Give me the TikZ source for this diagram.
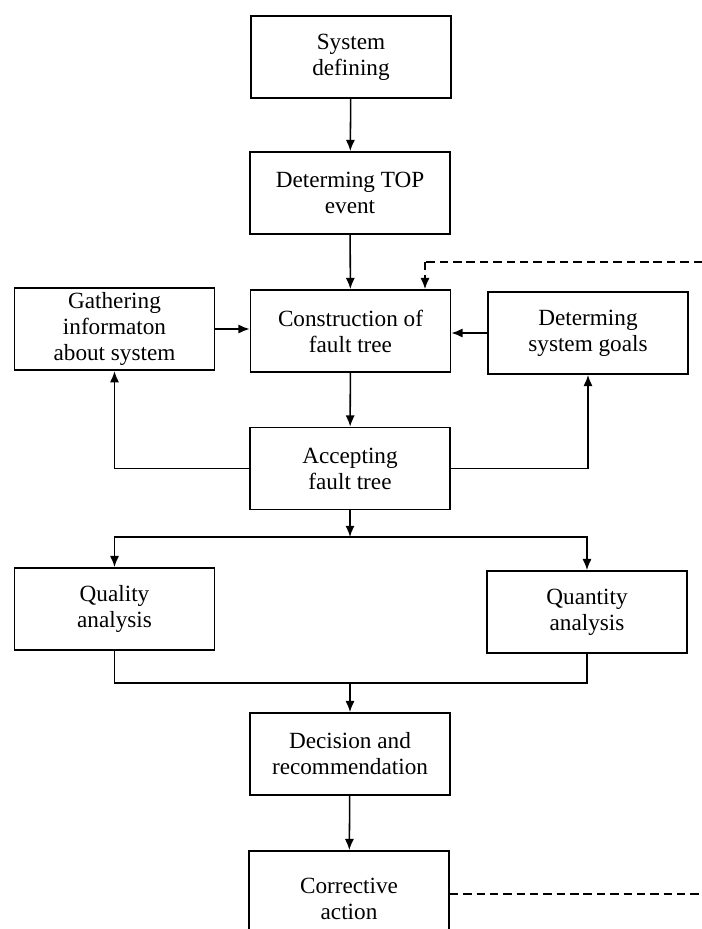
\documentclass[tikz,border=0pt]{standalone}
\usepackage{fontspec}
\setmainfont{Liberation Serif}
\usetikzlibrary{arrows.meta, positioning}

\begin{document}
\begin{tikzpicture}[x=0.025cm, y=-0.025cm,
  box/.style={draw, line width=1.2pt, minimum width=5cm, minimum height=2.05cm,
    align=center, font=\fontsize{16.5}{18.5}\selectfont},
  arr/.style={line width=1.1pt, -{Latex[length=8pt, width=6.5pt]}},
  lin/.style={line width=1.1pt},
  fb/.style={line width=1.1pt, dash pattern=on 6pt off 3.5pt}]
\useasboundingbox (0,0) rectangle (702,929);
% Cajas
\node[box] (sys) at (351,57) {System\\defining};
\node[box] (top) at (350,193) {Determing TOP\\event};
\node[box] (gath) at (114.5,329) {Gathering\\informaton\\about system};
\node[box] (cons) at (350.5,331) {Construction of\\fault tree};
\node[box] (goal) at (588,333) {Determing\\system goals};
\node[box] (acc) at (350,468.5) {Accepting\\fault tree};
\node[box] (qual) at (114.5,609) {Quality\\analysis};
\node[box] (quan) at (587,612) {Quantity\\analysis};
\node[box] (dec) at (350,754) {Decision and\\recommendation};
\node[box, minimum height=2.4cm] (cor) at (349,899) {Corrective\\action};
% Puntos auxiliares
\coordinate (fbin) at (702,262);
\coordinate (dashtop) at (425,262);
\coordinate (split) at (350,537);
\coordinate (merge) at (350,683);
\coordinate (fbout) at (702,894);
% Flechas
\draw[arr] (sys) -- (top);
\draw[arr] (top) -- (cons);
\draw[arr] (gath.east) -- (gath.east -| cons.west);
\draw[arr] (goal.west) -- (goal.west -| cons.east);
\draw[arr] (cons) -- (acc);
\draw[arr] (acc.west) -| (gath.south);
\draw[arr] (acc.east) -| (goal.south);
\draw[arr] (acc) -- (split);
\draw[arr] (split) -| (qual.north);
\draw[arr] (split) -| (quan.north);
\draw[lin] (qual.south) |- (merge) -| (quan.south);
\draw[arr] (merge) -- (dec);
\draw[arr] (dec) -- (cor);
% Retroalimentacion
\draw[fb] (fbin) -- (dashtop);
\draw[fb, -{Latex[length=8pt, width=6.5pt]}] (dashtop) -- (dashtop |- cons.north);
\draw[fb] (cor.east |- fbout) -- (fbout);
\end{tikzpicture}
\end{document}
